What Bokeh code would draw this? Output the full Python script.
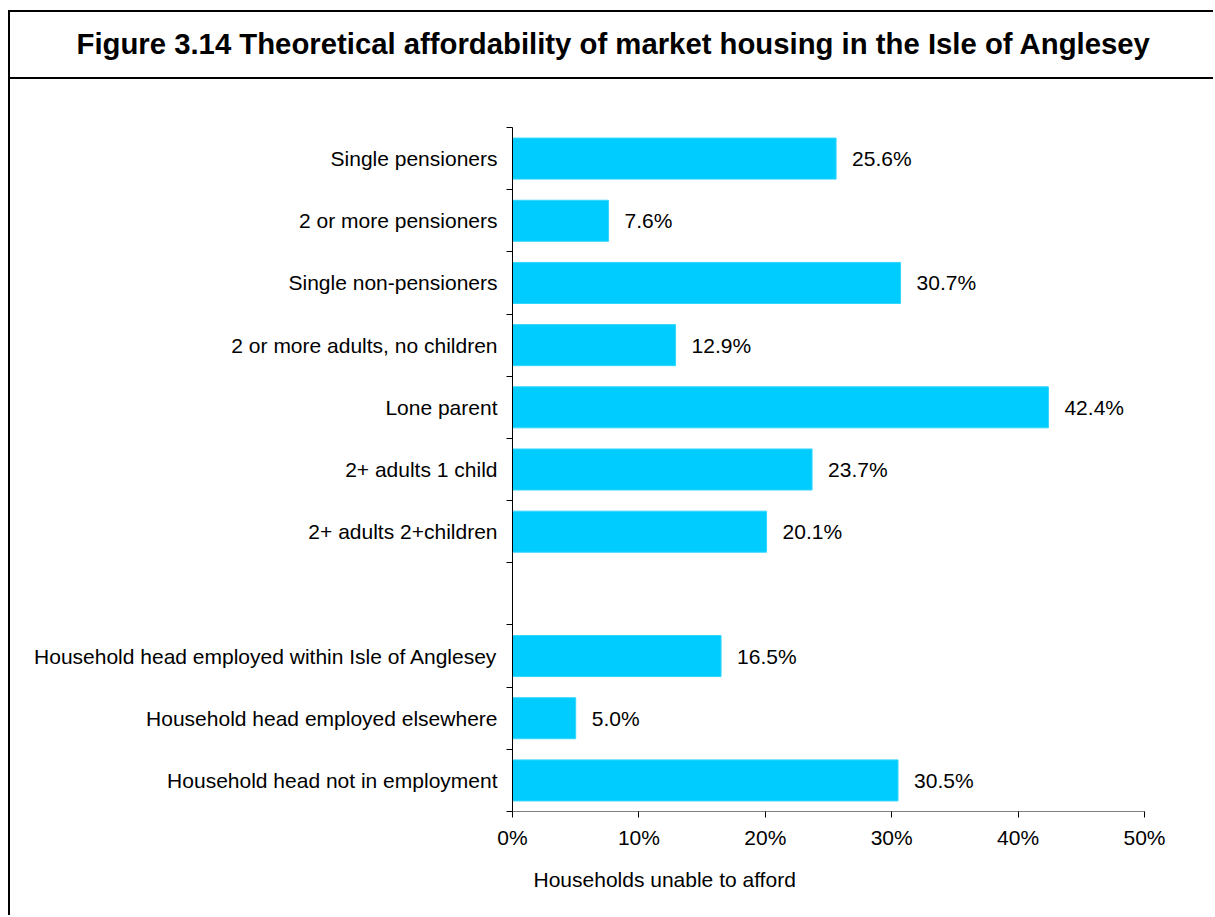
from bokeh.plotting import figure
from bokeh.layouts import column
from bokeh.models import (FixedTicker, PrintfTickFormatter, Title,
                          ColumnDataSource, Range1d)
from bokeh.core.properties import value
from bokeh.embed import file_html
from bokeh.resources import INLINE

# ---- data ----
title_text = "Figure 3.14 Theoretical affordability of market housing in the Isle of Anglesey"
categories = [
    "Single pensioners",
    "2 or more pensioners",
    "Single non-pensioners",
    "2 or more adults, no children",
    "Lone parent",
    "2+ adults 1 child",
    "2+ adults 2+children",
    "",
    "Household head employed within Isle of Anglesey",
    "Household head employed elsewhere",
    "Household head not in employment",
]
values = [25.6, 7.6, 30.7, 12.9, 42.4, 23.7, 20.1, None, 16.5, 5.0, 30.5]
x_ticks = [0, 10, 20, 30, 40, 50]
x_label = "Households unable to afford"

FONT = "Liberation Sans"
W = 1205
n = len(categories)
centers = [n - i - 0.5 for i in range(n)]

# ---- title panel (its frame is aligned with the chart frame below) ----
t = figure(width=W, height=69, output_backend="svg", toolbar_location=None,
           x_range=Range1d(0, 1), y_range=Range1d(0, 1),
           x_axis_type=None, y_axis_type=None,
           min_border_left=502, min_border_right=71,
           min_border_top=47, min_border_bottom=0, title=None)
t.outline_line_color = None
t.xgrid.visible = False
t.ygrid.visible = False
t.add_layout(Title(text=title_text, align="left", offset=-436, standoff=0,
                   text_font=FONT, text_font_style="bold", text_font_size="29.3px",
                   text_color="black"), "above")
t.margin = (10, 0, 0, 8)
t.styles = {"border-left": "2px solid black", "border-top": "2px solid black",
            "border-bottom": "2px solid black"}

# ---- main chart ----
bar_y = [c for c, v in zip(centers, values) if v is not None]
bar_v = [v for v in values if v is not None]
src = ColumnDataSource(dict(y=bar_y, right=bar_v,
                            lbl=["%.1f%%" % v for v in bar_v]))

p = figure(width=W, height=836, output_backend="svg", toolbar_location=None,
           x_range=Range1d(0, 50), y_range=Range1d(0, n),
           min_border_left=502, min_border_right=71,
           min_border_top=48, min_border_bottom=104)
p.margin = (0, 0, 0, 8)
p.styles = {"border-left": "2px solid black"}
p.outline_line_color = None
p.xgrid.grid_line_color = None
p.ygrid.grid_line_color = None

p.hbar(y="y", right="right", left=0, height=0.66, source=src,
       fill_color="#00CCFF", line_color="#33D6FF", line_width=1)
p.text(x="right", y="y", text="lbl", source=src, x_offset=16,
       text_baseline="middle", text_align="left",
       text_font=value(FONT), text_font_size="21px", text_color="black")

# x axis
xa = p.xaxis[0]
xa.ticker = FixedTicker(ticks=x_ticks)
xa.formatter = PrintfTickFormatter(format="%d%%")
xa.axis_line_color = "#808080"
xa.major_tick_line_color = "black"
xa.major_tick_out = 6
xa.major_tick_in = 0
xa.minor_tick_line_color = None
xa.major_label_text_font = FONT
xa.major_label_text_font_size = "21px"
xa.major_label_text_color = "black"
xa.major_label_standoff = 8

# y axis
ya = p.yaxis[0]
ya.ticker = FixedTicker(ticks=centers, minor_ticks=list(range(n + 1)))
ya.major_label_overrides = {c: name for c, name in zip(centers, categories)}
ya.axis_line_color = "black"
ya.major_tick_line_color = None
ya.major_tick_out = 0
ya.major_tick_in = 0
ya.minor_tick_line_color = "black"
ya.minor_tick_out = 6
ya.minor_tick_in = 0
ya.major_label_text_font = FONT
ya.major_label_text_font_size = "21px"
ya.major_label_text_color = "black"
ya.major_label_standoff = 9

p.add_layout(Title(text=x_label, align="left", offset=21, standoff=29,
                   text_font=FONT, text_font_size="21px",
                   text_font_style="normal", text_color="black"), "below")

open("out.html", "w").write(file_html(column(t, p, spacing=0), INLINE))
